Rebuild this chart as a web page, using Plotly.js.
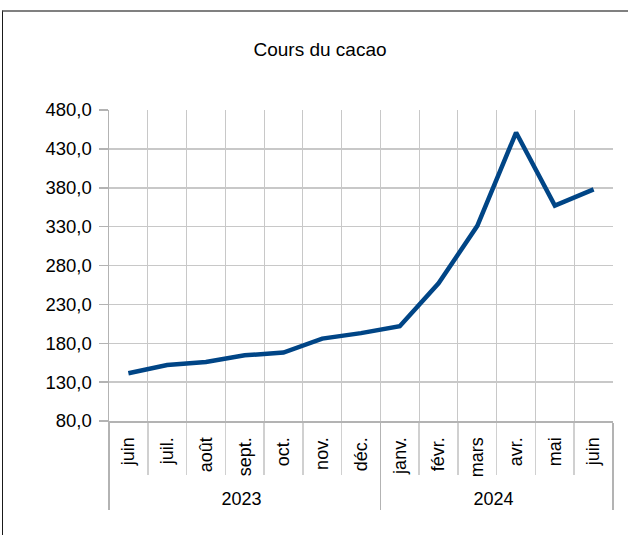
<!DOCTYPE html>
<html>
<head>
<meta charset="utf-8">
<script src="https://cdn.plot.ly/plotly-3.0.1.min.js"></script>
<style>
  html, body { margin: 0; padding: 0; background: #fff; }
  #wrap { position: relative; width: 628px; height: 535px; overflow: hidden; }
  #chart { position: absolute; left: 0; top: 0; width: 628px; height: 535px; }
  #frame { position: absolute; left: 2px; top: 10px; width: 640px; height: 600px;
           border-top: 2px solid #808080; border-left: 1px solid #1a1a1a; pointer-events: none; }
</style>
</head>
<body>
<div id="wrap">
  <div id="chart"></div>
  <div id="frame"></div>
</div>
<script>
// second "juin" carries a zero-width space so the two Junes stay distinct categories
const months = ["juin", "juil.", "août", "sept.", "oct.", "nov.", "déc.",
                "janv.", "févr.", "mars", "avr.", "mai", "juin\u200b"];
const years = ["2023", "2023", "2023", "2023", "2023", "2023", "2023",
               "2024", "2024", "2024", "2024", "2024", "2024"];
const prices = [141.5, 152, 156, 164.5, 168, 186, 193, 202, 257, 331, 451, 357, 378];

const FONT = "Liberation Sans, Arial, sans-serif";

const trace = {
  type: "scatter",
  mode: "lines",
  x: [years, months],
  y: prices,
  line: { color: "#004586", width: 4.5 },
  hoverinfo: "skip"
};

const layout = {
  width: 628,
  height: 535,
  margin: { l: 109, r: 15, t: 110, b: 114 },
  paper_bgcolor: "#ffffff",
  plot_bgcolor: "#ffffff",
  separators: ", ",
  font: { family: FONT, size: 18, color: "#000000" },
  showlegend: false,
  title: {
    text: "Cours du cacao",
    font: { family: FONT, size: 19, color: "#000000" },
    x: 320 / 628,
    xanchor: "center",
    xref: "container",
    y: 1 - 49 / 535,
    yanchor: "middle",
    yref: "container"
  },
  xaxis: {
    type: "multicategory",
    range: [-0.5, months.length - 0.5],
    tickangle: -90,
    showgrid: true,
    gridcolor: "#c8c8c8",
    gridwidth: 1,
    showline: true,
    linecolor: "#b3b3b3",
    linewidth: 2,
    ticks: "outside",
    ticklen: 52,
    tickcolor: "#d0d0d0",
    tickwidth: 1.5,
    ticklabelstandoff: 7,
    showdividers: true,
    dividercolor: "#b3b3b3",
    dividerwidth: 1.5,
    tickfont: { family: FONT, size: 18, color: "#000000" },
    fixedrange: true
  },
  yaxis: {
    range: [80, 480],
    tick0: 80,
    dtick: 50,
    tickformat: ".1f",
    showgrid: true,
    gridcolor: "#c8c8c8",
    gridwidth: 1.5,
    zeroline: false,
    showline: true,
    linecolor: "#b3b3b3",
    linewidth: 1.5,
    ticks: "outside",
    ticklen: 9,
    tickcolor: "#b3b3b3",
    tickwidth: 1.5,
    ticklabelstandoff: 3,
    tickfont: { family: FONT, size: 18.5, color: "#000000" },
    fixedrange: true
  }
};

Plotly.newPlot("chart", [trace], layout, { displayModeBar: false, staticPlot: true });
</script>
</body>
</html>
